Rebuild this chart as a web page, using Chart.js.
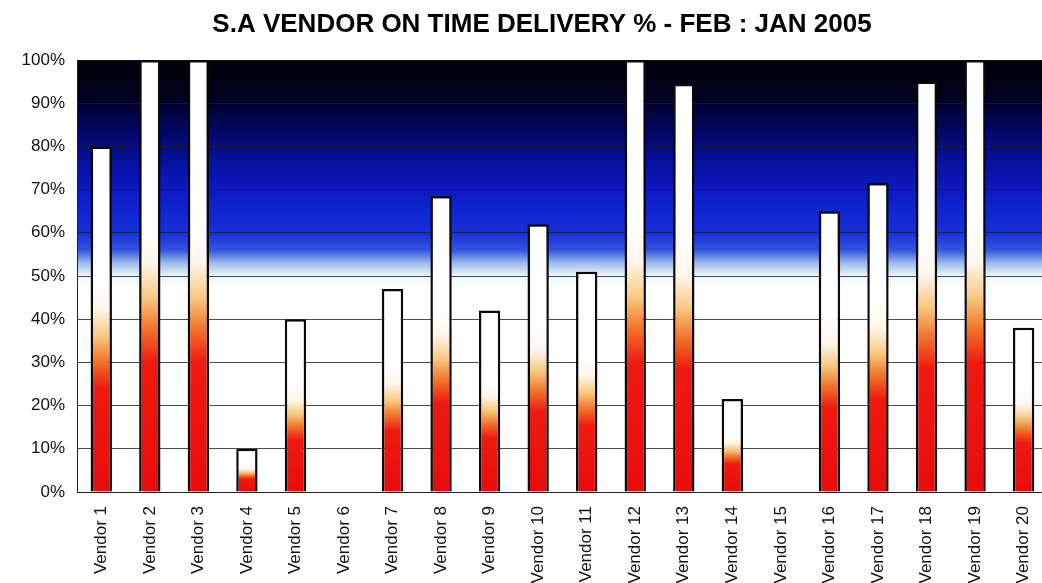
<!DOCTYPE html>
<html>
<head>
<meta charset="utf-8">
<script src="https://cdn.jsdelivr.net/npm/chart.js@4.4.1/dist/chart.umd.min.js"></script>
<style>
  html, body { margin: 0; padding: 0; background: #fff; overflow: hidden; }
  #wrap { width: 1050px; height: 583px; }
</style>
</head>
<body>
<div id="wrap"><canvas id="chart"></canvas></div>
<script>
// data
const vendors = ['Vendor 1', 'Vendor 2', 'Vendor 3', 'Vendor 4', 'Vendor 5', 'Vendor 6', 'Vendor 7',
    'Vendor 8', 'Vendor 9', 'Vendor 10', 'Vendor 11', 'Vendor 12', 'Vendor 13', 'Vendor 14',
    'Vendor 15', 'Vendor 16', 'Vendor 17', 'Vendor 18', 'Vendor 19', 'Vendor 20'];
const onTime = [80, 100, 100, 10, 40, 0, 47, 68.5, 42, 62, 51, 100, 94.5, 21.5, 0, 65, 71.5, 95, 100, 38];
const yTicks = [0, 10, 20, 30, 40, 50, 60, 70, 80, 90, 100];
const chartTitle = 'S.A VENDOR ON TIME DELIVERY % - FEB : JAN 2005';

// plot background: black at the top fading through blue to white
const skyPlugin = {
    id: 'sky',
    beforeDraw(chart) {
        const { ctx, chartArea } = chart;
        const y = chart.scales.y;
        const top = y.getPixelForValue(100), bot = y.getPixelForValue(0);
        const g = ctx.createLinearGradient(0, top, 0, bot);
        g.addColorStop(0.00, '#000006');
        g.addColorStop(0.08, '#00001e');
        g.addColorStop(0.16, '#020660');
        g.addColorStop(0.25, '#0812a8');
        g.addColorStop(0.33, '#0e20cc');
        g.addColorStop(0.40, '#1630da');
        g.addColorStop(0.44, '#3454dc');
        g.addColorStop(0.47, '#9cbce8');
        g.addColorStop(0.50, '#eef6fb');
        g.addColorStop(0.53, '#ffffff');
        g.addColorStop(1.00, '#ffffff');
        ctx.save();
        ctx.fillStyle = g;
        ctx.fillRect(chartArea.left, chartArea.top, chartArea.right - chartArea.left, chartArea.bottom - chartArea.top);
        ctx.restore();
    }
};

// the scanned title sits a little right of the canvas centre, so draw it by hand
const headingPlugin = {
    id: 'heading',
    afterDraw(chart) {
        const ctx = chart.ctx;
        ctx.save();
        ctx.font = 'bold 26px "Liberation Sans", Arial, sans-serif';
        ctx.fillStyle = '#000';
        ctx.textAlign = 'center';
        ctx.textBaseline = 'alphabetic';
        ctx.fillText(chartTitle, 542, 32);
        ctx.restore();
    }
};

// each bar goes red at the base, orange, then white towards its top
function barFill(context) {
    const chart = context.chart;
    if (!chart.chartArea) return '#e01010';
    const v = context.raw;
    if (!v) return '#e01010';
    const y = chart.scales.y;
    const base = y.getPixelForValue(0);
    const top = y.getPixelForValue(v);
    const g = chart.ctx.createLinearGradient(0, base, 0, top);
    g.addColorStop(0.00, '#e80c0c');
    g.addColorStop(0.30, '#ee1a10');
    g.addColorStop(0.38, '#f2762a');
    g.addColorStop(0.45, '#f8c880');
    g.addColorStop(0.53, '#fff6ea');
    g.addColorStop(0.62, '#ffffff');
    g.addColorStop(1.00, '#ffffff');
    return g;
}

new Chart(document.getElementById('chart'), {
    type: 'bar',
    data: {
        labels: vendors,
        datasets: [{
            data: onTime,
            backgroundColor: barFill,
            borderColor: '#0a0a0a',
            borderWidth: 2.5,
            borderSkipped: 'bottom',
            barPercentage: 0.44,
            categoryPercentage: 1.0
        }]
    },
    options: {
        responsive: true,
        maintainAspectRatio: false,
        animation: false,
        layout: { padding: { top: 60, left: 0, right: 0, bottom: 0 } },
        plugins: {
            legend: { display: false },
            tooltip: { enabled: false },
            title: { display: false }
        },
        scales: {
            x: {
                grid: { display: false },
                border: { color: '#222', width: 1 },
                ticks: {
                    color: '#111',
                    minRotation: 90,
                    maxRotation: 90,
                    autoSkip: false,
                    padding: 6,
                    font: { family: 'Liberation Sans, Arial, sans-serif', size: 17 }
                },
                afterFit(scale) { scale.height = 91; }
            },
            y: {
                min: 0,
                max: 100,
                afterBuildTicks(scale) { scale.ticks = yTicks.map(v => ({ value: v })); },
                grid: { color: 'rgba(30,30,40,0.8)', lineWidth: 1, drawTicks: false },
                border: { color: '#222', width: 1 },
                ticks: {
                    color: '#111',
                    padding: 12,
                    font: { family: 'Liberation Sans, Arial, sans-serif', size: 17 },
                    callback: v => v + '%'
                },
                afterFit(scale) { scale.width = 77; }
            }
        }
    },
    plugins: [skyPlugin, headingPlugin]
});
</script>
</body>
</html>
